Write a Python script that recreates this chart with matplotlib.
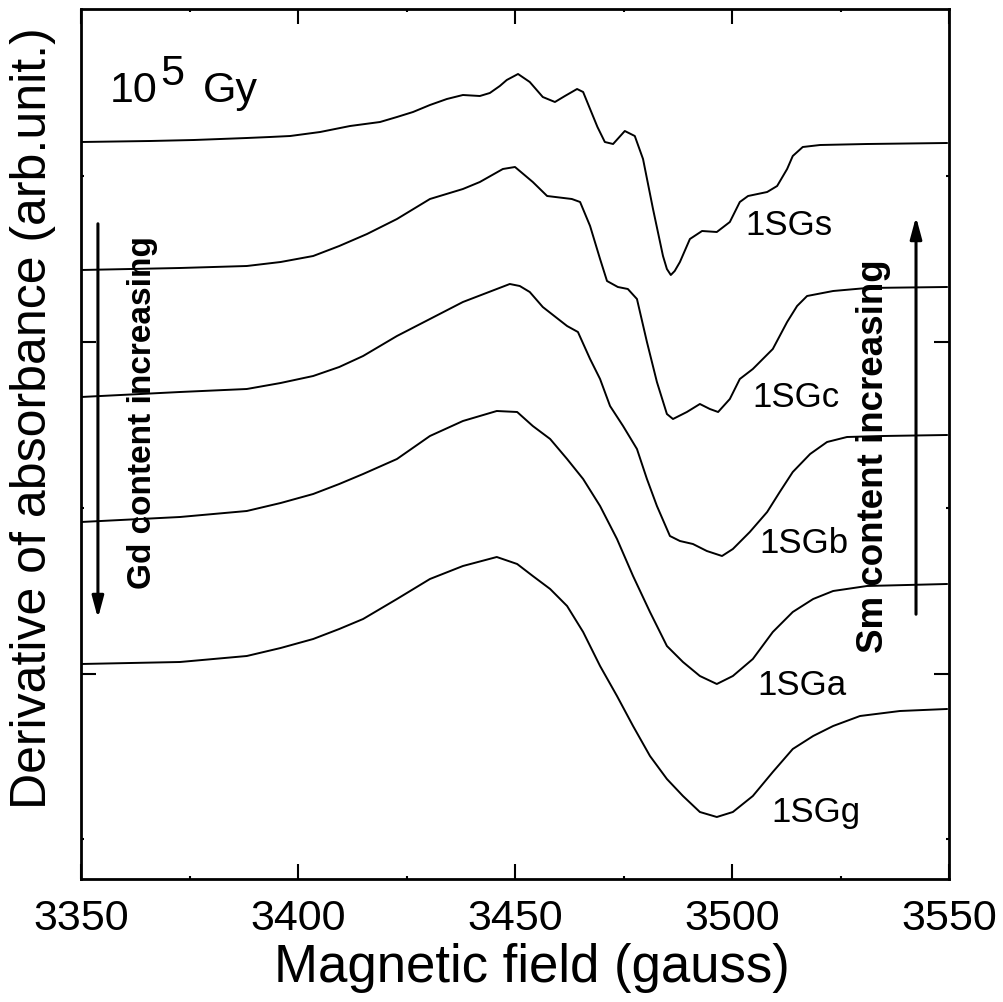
import matplotlib
matplotlib.use("Agg")
import matplotlib.pyplot as plt

plt.rcParams['font.family'] = ['Liberation Sans', 'DejaVu Sans']

# --- data (field in gauss, signal in arb. units incl. offset) ---
field_s = [3350, 3365.9, 3376.0, 3388.2, 3393.5, 3398.2, 3405.1, 3412.0, 3418.9, 3422.8,
           3426.5, 3430.4, 3434.3, 3438.0, 3441.9, 3444.2, 3446.5, 3448.1, 3450.7, 3453.4,
           3456.4, 3459.2, 3461.5, 3464.3, 3465.7, 3467.3, 3469.0, 3470.7, 3472.6, 3475.3,
           3477.6, 3479.5, 3481.8, 3484.1, 3485.0, 3485.9, 3486.8, 3488.0, 3490.3, 3493.1,
           3496.5, 3499.5, 3501.8, 3503.7, 3508.1, 3510.4, 3512.7, 3514.0, 3516.3, 3520.3,
           3531.1, 3549.5]
sig_s = [737, 738, 739, 741, 742, 743, 747, 753, 757, 762,
         767, 774, 780, 784, 783, 786, 793, 799, 805, 797,
         782, 777, 783, 790, 787, 770, 752, 737, 735, 748,
         743, 720, 670, 623, 610, 604, 608, 617, 640, 648,
         647, 657, 677, 683, 687, 693, 710, 723, 732, 734,
         735, 736]

field_c = [3350, 3372.8, 3388.2, 3396.0, 3403.5, 3409.5, 3415.9, 3422.8, 3430.4, 3438.0,
           3441.9, 3447.2, 3450.0, 3454.1, 3457.4, 3463.1, 3465.0, 3467.3, 3469.6, 3471.2,
           3473.7, 3476.0, 3478.1, 3480.4, 3482.7, 3485.0, 3486.4, 3489.6, 3492.6, 3494.9,
           3496.8, 3499.5, 3501.8, 3504.8, 3509.4, 3512.7, 3515.0, 3517.3, 3523.3, 3531.1,
           3549.5]
sig_c = [609, 611, 613, 617, 623, 633, 645, 660, 680, 690,
         697, 710, 712, 697, 683, 680, 677, 653, 620, 598,
         592, 590, 580, 537, 497, 465, 460, 467, 475, 470,
         467, 480, 500, 510, 530, 557, 573, 583, 588, 591,
         592]

field_b = [3350, 3372.8, 3388.2, 3396.0, 3403.5, 3409.5, 3415.0, 3422.8, 3430.4, 3438.0,
           3445.8, 3448.8, 3451.1, 3453.4, 3456.4, 3462.0, 3464.5, 3467.3, 3469.6, 3471.9,
           3474.9, 3478.1, 3480.4, 3482.7, 3485.7, 3488.0, 3491.0, 3494.2, 3497.7, 3500.2,
           3504.1, 3508.1, 3511.0, 3514.0, 3518.0, 3521.9, 3526.5, 3534.8, 3549.5]
sig_b = [482, 487, 490, 496, 503, 512, 523, 543, 560, 577,
         590, 595, 593, 587, 572, 553, 547, 520, 500, 473,
         453, 430, 400, 373, 343, 338, 335, 328, 323, 330,
         347, 367, 387, 407, 425, 437, 442, 443, 444]

field_a = [3350, 3372.8, 3388.2, 3396.0, 3403.5, 3409.5, 3415.0, 3422.8, 3430.4, 3438.0,
           3445.8, 3450.5, 3454.1, 3458.1, 3462.0, 3465.7, 3469.6, 3473.5, 3477.2, 3481.1,
           3485.0, 3488.7, 3492.6, 3496.5, 3500.2, 3504.8, 3509.4, 3514.0, 3518.7, 3523.3,
           3531.1, 3549.5]
sig_a = [357, 362, 368, 376, 385, 395, 405, 420, 443, 458,
         468, 467, 453, 440, 420, 400, 373, 340, 303, 267,
         233, 217, 203, 195, 203, 220, 247, 267, 280, 288,
         293, 295]

field_g = [3350, 3372.8, 3388.2, 3396.0, 3403.5, 3409.5, 3415.0, 3422.8, 3430.4, 3438.0,
           3445.8, 3450.5, 3454.1, 3458.1, 3462.0, 3465.7, 3469.6, 3473.5, 3477.2, 3481.1,
           3485.0, 3488.7, 3492.6, 3496.5, 3500.2, 3504.8, 3509.4, 3514.0, 3518.7, 3523.3,
           3529.5, 3538.7, 3549.5]
sig_g = [215, 217, 223, 231, 240, 250, 260, 280, 300, 313,
         322, 315, 303, 290, 273, 247, 213, 183, 153, 123,
         100, 83, 67, 62, 67, 83, 107, 130, 143, 153,
         163, 168, 170]

names = ['1SGs', '1SGc', '1SGb', '1SGa', '1SGg']
label_x = [3503.0, 3504.8, 3506.4, 3505.8, 3509.0]
label_y = [645, 473, 327, 185, 58]

# --- figure ---
fig = plt.figure(figsize=(10.04, 10.03), dpi=100)
ax = fig.add_axes([81/1004, 123/1003, 868/1004, 870/1003])

for f, s in [(field_s, sig_s), (field_c, sig_c), (field_b, sig_b),
             (field_a, sig_a), (field_g, sig_g)]:
    ax.plot(f, s, color='black', lw=1.4, solid_joinstyle='round')

for n, x, y in zip(names, label_x, label_y):
    ax.text(x, y, n, fontsize=25, va='baseline', ha='left')

# 10^5 Gy
ax.text(3356.7, 778, '10', fontsize=31, va='baseline')
ax.text(3368.2, 795, '5', fontsize=31, va='baseline')
ax.text(3378.1, 778, 'Gy', fontsize=31, va='baseline')

# arrows + notes
ax.annotate('', xy=(3353.9, 258), xytext=(3353.9, 658),
            arrowprops=dict(arrowstyle='-|>,head_width=0.35,head_length=1.3', color='black', lw=2.2))
ax.annotate('', xy=(3542.4, 665), xytext=(3542.4, 262),
            arrowprops=dict(arrowstyle='-|>,head_width=0.35,head_length=1.3', color='black', lw=2.2))
ax.text(3364.1, 467, 'Gd content increasing', rotation=90, fontsize=24,
        fontweight='bold', ha='center', va='center')
ax.text(3532.5, 424, 'Sm content increasing', rotation=90, fontsize=26.5,
        fontweight='bold', ha='center', va='center')

ax.set_xlim(3350, 3550)
ax.set_ylim(0, 870)
ax.set_xticks([3350, 3400, 3450, 3500, 3550])
ax.set_xticks([3375, 3425, 3475, 3525], minor=True)
ax.set_yticks([205, 537])
ax.set_yticks([40, 371, 703], minor=True)
ax.set_yticklabels([])
ax.tick_params(which='both', direction='in', top=True, right=True, width=1.5,
               labelsize=31, pad=14)
ax.tick_params(which='major', length=11)
ax.tick_params(which='minor', length=2)
for sp in ax.spines.values():
    sp.set_linewidth(2)

ax.set_xlabel('Magnetic field (gauss)', fontsize=38)
ax.xaxis.set_label_coords(0.52, -0.072)
fig.text(33/1004, 1 - 418/1003, 'Derivative of absorbance (arb.unit.)',
         rotation=90, fontsize=36, ha='center', va='center')

fig.savefig('out.png', dpi=100)
